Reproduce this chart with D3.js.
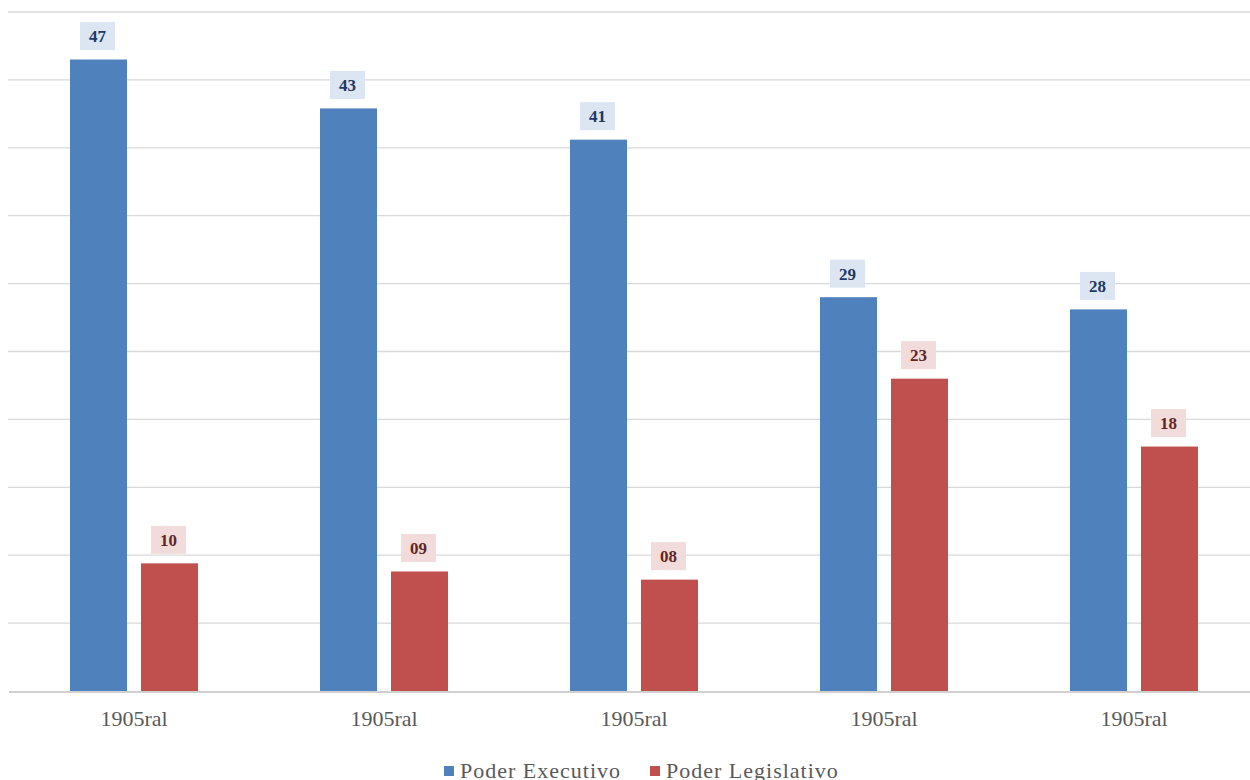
<!DOCTYPE html>
<html><head><meta charset="utf-8">
<script src="https://cdn.jsdelivr.net/npm/d3@7"></script>
<style>
html,body{margin:0;padding:0;background:#fff;}
svg{display:block;}
</style></head>
<body>
<svg id="chart" width="1250" height="780"></svg>
<script>
const categories = ["1905ral","1905ral","1905ral","1905ral","1905ral"];
const seriesNames = ["Poder Executivo","Poder Legislativo"];
const executivo = [46.5, 42.9, 40.6, 29.0, 28.1];
const legislativo = [9.4, 8.8, 8.2, 23.0, 18.0];
const executivoLabels = ["47","43","41","29","28"];
const legislativoLabels = ["10","09","08","23","18"];
const yTicks = [0,5,10,15,20,25,30,35,40,45,50];

const colors = ["#4F81BD","#C0504D"];
const boxFill = ["#DCE6F2","#F2DCDB"];
const textFill = ["#1F3864","#632523"];

const svg = d3.select("#chart");
const serif = "'Liberation Serif','Times New Roman',serif";

const x0 = d3.scaleBand().domain(d3.range(categories.length)).range([9,1259])
  .paddingInner(0.488).paddingOuter(0.244);
const x1 = d3.scaleBand().domain([0,1]).range([0,x0.bandwidth()]).paddingInner(0.197).paddingOuter(0);
const y = d3.scaleLinear().domain([0,50]).range([691,12]);

// gridlines
svg.append("g").selectAll("line").data(yTicks.filter(t=>t>0)).join("line")
  .attr("x1",8).attr("x2",1250)
  .attr("y1",d=>y(d)).attr("y2",d=>y(d))
  .attr("stroke","#d9d9d9").attr("stroke-width",1.3);

const series = [executivo, legislativo];
const labels = [executivoLabels, legislativoLabels];

const groups = svg.append("g").selectAll("g").data(categories.map((c,i)=>i)).join("g")
  .attr("transform",i=>`translate(${x0(i)},0)`);

groups.each(function(i){
  const g = d3.select(this);
  [0,1].forEach(s=>{
    const v = series[s][i];
    g.append("rect")
      .attr("x",x1(s)).attr("width",x1.bandwidth())
      .attr("y",y(v)).attr("height",y(0)-y(v))
      .attr("fill",colors[s]);
    const cx = x1(s)+x1.bandwidth()/2 - 1;
    const by = y(v) - 9.5;
    g.append("rect")
      .attr("x",cx-17.5).attr("width",35)
      .attr("y",by-28).attr("height",28)
      .attr("fill",boxFill[s]);
    g.append("text")
      .attr("x",cx).attr("y",by-14)
      .attr("dy","0.35em")
      .attr("text-anchor","middle")
      .attr("font-family",serif).attr("font-weight","bold").attr("font-size",17)
      .attr("fill",textFill[s])
      .text(labels[s][i]);
  });
});

// baseline axis
const xAxis = d3.axisBottom(x0).tickSize(0).tickPadding(19).tickFormat(i=>categories[i]);
const ax = svg.append("g").attr("transform",`translate(0,${y(0)})`).call(xAxis);
ax.select(".domain").remove();
ax.selectAll("text").attr("font-family",serif).attr("font-size",22).attr("fill","#595959");
svg.append("line").attr("x1",9).attr("x2",1250).attr("y1",y(0)+1).attr("y2",y(0)+1)
  .attr("stroke","#d0d0d0").attr("stroke-width",2);

// legend
const legendX = [444, 650];
const leg = svg.append("g");
seriesNames.forEach((n,s)=>{
  leg.append("rect").attr("x",legendX[s]).attr("y",766).attr("width",10).attr("height",10).attr("fill",colors[s]);
  leg.append("text").attr("x",legendX[s]+16).attr("y",778)
    .attr("font-family",serif).attr("font-size",22).attr("letter-spacing","1px").attr("fill","#595959")
    .text(n);
});
</script>
</body></html>
